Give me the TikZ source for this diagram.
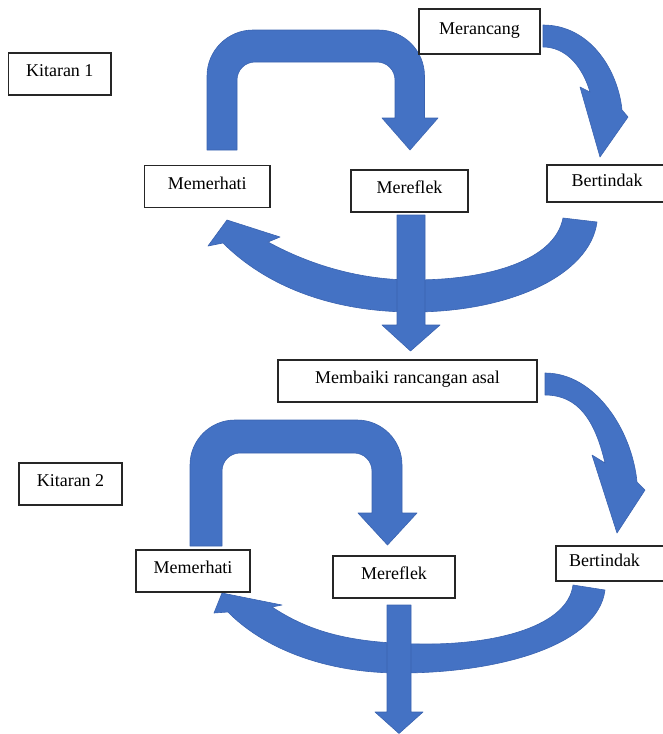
\documentclass[tikz,border=0pt]{standalone}
\usepackage{fontspec}
\setmainfont{Liberation Serif}
\definecolor{pblue}{HTML}{4472C4}
\definecolor{pedge}{HTML}{3A63B0}
\begin{document}
\begin{tikzpicture}[x=1pt,y=-1pt,
  box/.style={draw=black!85, line width=1.1pt, fill=white, inner sep=0pt,
    text height=12pt, text depth=7pt, font=\fontsize{18}{21}\selectfont},
  blk/.style={fill=pblue, draw=pedge, line width=0.6pt, line join=round}]
\useasboundingbox (0,0) rectangle (663,734);

% ---------- Kitaran 1 arrows ----------
% U-turn arrow Memerhati -> Mereflek
\path[blk] (207,150) -- (207,76) arc[start angle=180, end angle=90, radius=46pt]
  -- (378.5,30) arc[start angle=90, end angle=0, radius=46pt]
  -- (424.5,118) -- (438,118) -- (410,150) -- (382,118) -- (395,118)
  -- (395,80) arc[start angle=0, end angle=90, radius=18pt]
  -- (255,62) arc[start angle=90, end angle=180, radius=18pt]
  -- (237,150) -- cycle;
% curved arrow Merancang -> Bertindak
\path[blk] (543,25) .. controls (590,25) and (618,70) .. (622,110)
  -- (628,117) -- (600,157) -- (580,87) -- (590,92)
  .. controls (582,65) and (565,47) .. (543,47) -- cycle;
% big curved arrow Bertindak -> Memerhati
\path[blk] (563,218) -- (597,222)
  .. controls (590,275) and (510,312) .. (413,312)
  .. controls (330,312) and (265,285) .. (223,243)
  -- (208,246) -- (227,220) -- (280,237) -- (268,242)
  .. controls (310,265) and (360,280) .. (413,280)
  .. controls (490,280) and (555,260) .. (563,218) -- cycle;
% down arrow Mereflek -> Membaiki
\path[blk] (397,215) -- (425,215) -- (425,325) -- (440,325) -- (410.5,351) -- (382,325) -- (397,325) -- cycle;

% ---------- Kitaran 2 arrows ----------
\path[blk] (190,546) -- (190,465) arc[start angle=180, end angle=90, radius=45pt]
  -- (357,420) arc[start angle=90, end angle=0, radius=45pt]
  -- (402,513) -- (417,513) -- (387.5,545) -- (358,513) -- (372,513)
  -- (372,471) arc[start angle=0, end angle=90, radius=18pt]
  -- (240,453) arc[start angle=90, end angle=180, radius=18pt]
  -- (222,546) -- cycle;
\path[blk] (545,373) .. controls (595,373) and (632,430) .. (637,482)
  -- (645,490) -- (617,533) -- (592,455) -- (605,463)
  .. controls (595,420) and (578,395) .. (545,395) -- cycle;
\path[blk] (573,585) -- (605,590)
  .. controls (598,645) and (500,673) .. (400,673)
  .. controls (320,673) and (260,645) .. (228,612)
  -- (214,613) -- (222,593) -- (282,605) -- (272,607)
  .. controls (310,632) and (350,643) .. (420,644)
  .. controls (500,645) and (568,625) .. (573,585) -- cycle;
\path[blk] (387,605) -- (411,605) -- (411,712) -- (423,712) -- (399,733.5) -- (375,712) -- (387,712) -- cycle;

% ---------- boxes ----------
\node[box, minimum width=102.5pt, minimum height=42pt] (k1) at (59.75,74) {Kitaran 1};
\node[box, minimum width=121pt, minimum height=45pt] (mer) at (479.5,31.5) {Merancang};
\node[box, minimum width=125.5pt, minimum height=42pt] (mh1) at (207.25,186.5) {Memerhati};
\node[box, minimum width=117pt, minimum height=42pt] (mf1) at (409.5,191) {Mereflek};
\node[box, minimum width=120pt, minimum height=37pt] (bt1) at (607,183.5) {Bertindak};
\node[box, minimum width=259pt, minimum height=42pt] (mb) at (407.5,381) {Membaiki rancangan asal};
\node[box, minimum width=103pt, minimum height=42pt] (k2) at (70.5,484) {Kitaran 2};
\node[box, minimum width=114pt, minimum height=42pt] (mh2) at (193,571) {Memerhati};
\node[box, minimum width=122pt, minimum height=42pt] (mf2) at (394,577) {Mereflek};
\node[box, minimum width=111pt, minimum height=35pt, text width=85pt, align=left] (bt2) at (611.5,563.5) {Bertindak};
\end{tikzpicture}
\end{document}
